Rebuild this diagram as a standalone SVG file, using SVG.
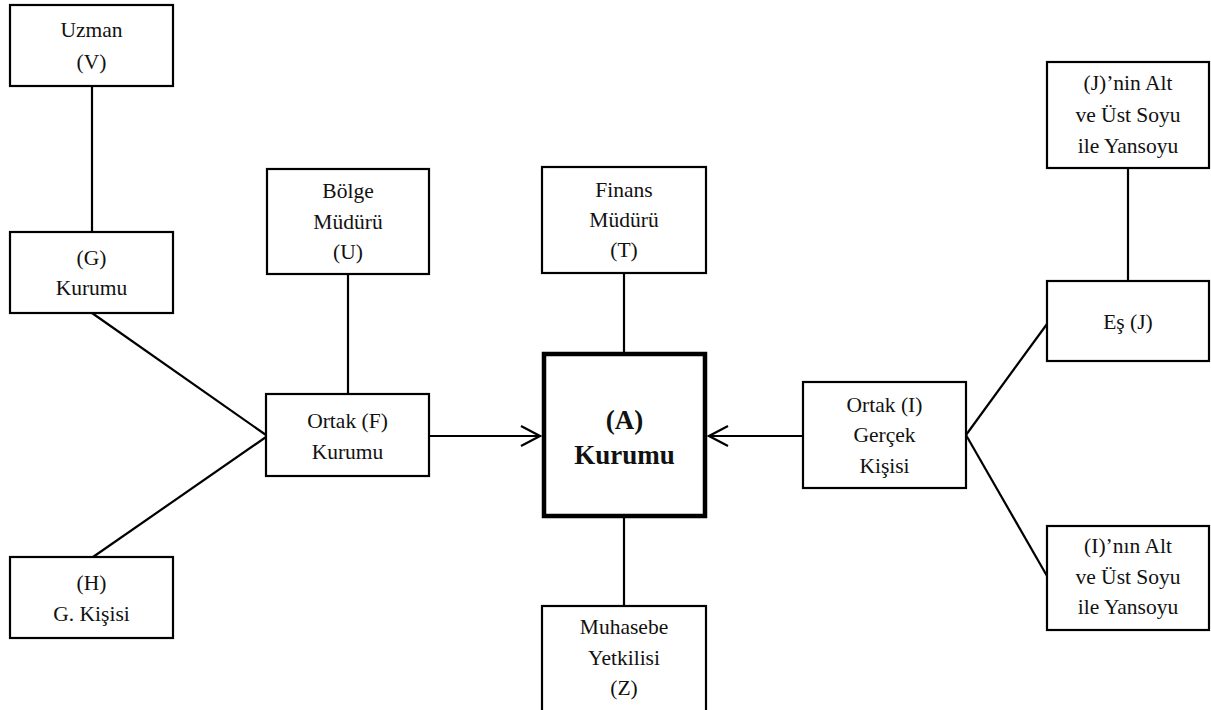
<svg xmlns="http://www.w3.org/2000/svg" width="1211" height="710" viewBox="0 0 1211 710">
<style>
  .box { fill: #ffffff; stroke: #000000; stroke-width: 2.2; }
  .main { fill: #ffffff; stroke: #000000; stroke-width: 4.5; }
  .t { font-family: "Liberation Serif", "Times New Roman", serif; font-size: 21.5px; fill: #111111; text-anchor: middle; }
  .tb { font-family: "Liberation Serif", "Times New Roman", serif; font-size: 27px; font-weight: bold; fill: #111111; text-anchor: middle; }
  .c { stroke: #000000; stroke-width: 2.2; fill: none; }
</style>
<defs>
  <marker id="arr" markerUnits="userSpaceOnUse" viewBox="-22 -12 24 24" markerWidth="24" markerHeight="24" refX="0" refY="0" orient="auto">
    <path d="M-19,-10 L0,0 L-19,10" fill="none" stroke="#000000" stroke-width="2.2"/>
  </marker>
</defs>
<rect x="0" y="0" width="1211" height="710" fill="#ffffff"/>
<g id="connectors">
  <line class="c" x1="92" y1="86" x2="92" y2="232"/>
  <line class="c" x1="92" y1="313" x2="266" y2="435"/>
  <line class="c" x1="93" y1="557" x2="266" y2="437"/>
  <line class="c" x1="348" y1="275" x2="348" y2="394"/>
  <line class="c" x1="429" y1="436" x2="540" y2="436" marker-end="url(#arr)"/>
  <line class="c" x1="624" y1="273" x2="624" y2="354"/>
  <line class="c" x1="624" y1="516" x2="624" y2="606"/>
  <line class="c" x1="803" y1="436" x2="709" y2="436" marker-end="url(#arr)"/>
  <line class="c" x1="966" y1="435" x2="1047" y2="324"/>
  <line class="c" x1="966" y1="435" x2="1047" y2="576"/>
  <line class="c" x1="1128" y1="168" x2="1128" y2="281"/>
</g>
<g id="node-V">
  <rect class="box" x="10" y="5" width="163" height="81"/>
  <text class="t" x="91.5" y="37">Uzman</text>
  <text class="t" x="91.5" y="69">(V)</text>
</g>
<g id="node-G">
  <rect class="box" x="10" y="232" width="163" height="81"/>
  <text class="t" x="91.5" y="265">(G)</text>
  <text class="t" x="91.5" y="295">Kurumu</text>
</g>
<g id="node-H">
  <rect class="box" x="10" y="557" width="163" height="81"/>
  <text class="t" x="91.5" y="590">(H)</text>
  <text class="t" x="91.5" y="621">G. Kişisi</text>
</g>
<g id="node-F">
  <rect class="box" x="266" y="394" width="163" height="82"/>
  <text class="t" x="347.5" y="428">Ortak (F)</text>
  <text class="t" x="347.5" y="459">Kurumu</text>
</g>
<g id="node-U">
  <rect class="box" x="267" y="169" width="162" height="105"/>
  <text class="t" x="348" y="198">Bölge</text>
  <text class="t" x="348" y="229">Müdürü</text>
  <text class="t" x="348" y="259">(U)</text>
</g>
<g id="node-T">
  <rect class="box" x="542" y="167" width="164" height="106"/>
  <text class="t" x="624" y="197">Finans</text>
  <text class="t" x="624" y="227">Müdürü</text>
  <text class="t" x="624" y="257">(T)</text>
</g>
<g id="node-A">
  <rect class="main" x="544" y="354" width="161" height="162"/>
  <text class="tb" x="624.5" y="429">(A)</text>
  <text class="tb" x="624.5" y="464">Kurumu</text>
</g>
<g id="node-Z">
  <rect class="box" x="542" y="606" width="164" height="120"/>
  <text class="t" x="624" y="634">Muhasebe</text>
  <text class="t" x="624" y="665">Yetkilisi</text>
  <text class="t" x="624" y="695">(Z)</text>
</g>
<g id="node-I">
  <rect class="box" x="803" y="382" width="163" height="106"/>
  <text class="t" x="884.5" y="412">Ortak (I)</text>
  <text class="t" x="884.5" y="442">Gerçek</text>
  <text class="t" x="884.5" y="473">Kişisi</text>
</g>
<g id="node-J">
  <rect class="box" x="1047" y="281" width="162" height="80"/>
  <text class="t" x="1128" y="329">Eş (J)</text>
</g>
<g id="node-J-soy">
  <rect class="box" x="1047" y="62" width="162" height="106"/>
  <text class="t" x="1128" y="90">(J)’nin Alt</text>
  <text class="t" x="1128" y="122">ve Üst Soyu</text>
  <text class="t" x="1128" y="153">ile Yansoyu</text>
</g>
<g id="node-I-soy">
  <rect class="box" x="1047" y="526" width="162" height="104"/>
  <text class="t" x="1128" y="553">(I)’nın Alt</text>
  <text class="t" x="1128" y="584">ve Üst Soyu</text>
  <text class="t" x="1128" y="614">ile Yansoyu</text>
</g>
</svg>
